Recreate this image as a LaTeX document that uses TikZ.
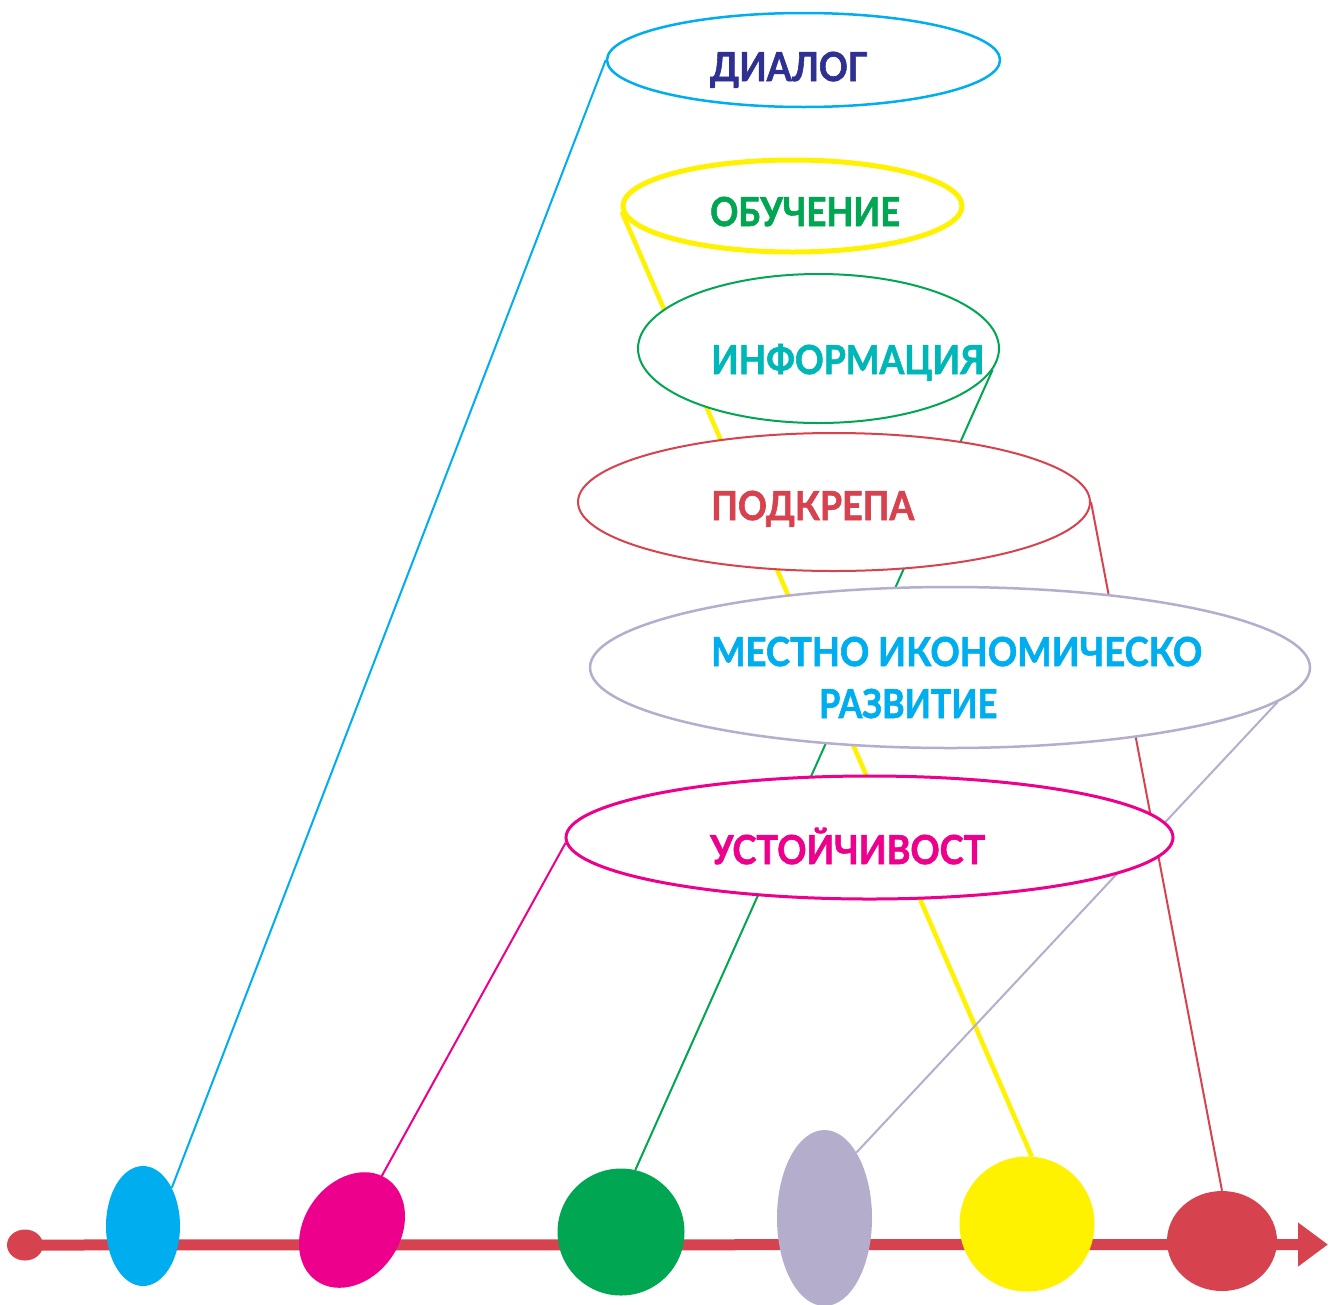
\documentclass[tikz,border=0pt]{standalone}
\usepackage{fontspec}
\setmainfont{Lato}
\newfontfamily\lblfont{Lato}[BoldFeatures={FakeBold=1.6}]
\usetikzlibrary{shapes.geometric,arrows.meta}
\pgfdeclarelayer{background}
\pgfsetlayers{background,main}
\definecolor{cblue}{HTML}{00AEEF}
\definecolor{cnavy}{HTML}{2E3192}
\definecolor{cmag}{HTML}{EC008C}
\definecolor{cgreen}{HTML}{00A651}
\definecolor{clav}{HTML}{B5ADCC}
\definecolor{cyel}{HTML}{FFF200}
\definecolor{cred}{HTML}{D7424F}
\definecolor{cteal}{HTML}{00B7B8}
\newcommand{\fitw}[2]{\resizebox{#1}{\height}{#2}}
\begin{document}
\begin{tikzpicture}[x=1pt,y=-1pt,
  bubble/.style={ellipse, fill=white, inner sep=0pt},
  ball/.style={ellipse, inner sep=0pt},
  lbl/.style={font=\fontsize{40}{48}\lblfont\bfseries, inner sep=0pt, anchor=base west},
  conn/.style={line width=2pt}]
\useasboundingbox (0,0) rectangle (1337,1304);

% text bubbles
\node[bubble, draw=cblue, line width=2.5pt, minimum width=393pt, minimum height=94pt] (dialog) at (803.5,60) {};
\node[bubble, draw=cyel, line width=5pt, minimum width=339pt, minimum height=92pt] (obuch) at (792.5,206) {};
\node[bubble, draw=cgreen, line width=2pt, minimum width=361pt, minimum height=149pt] (inform) at (818.5,348.5) {};
\node[bubble, draw=cred, line width=2pt, minimum width=512pt, minimum height=138pt] (podkr) at (834,502) {};
\node[bubble, draw=clav, line width=2.5pt, minimum width=720pt, minimum height=161pt] (mestno) at (950,667.5) {};
\node[bubble, draw=cmag, line width=3pt, minimum width=607pt, minimum height=123pt] (ustoi) at (869.5,837.5) {};

% labels
\node[lbl, text=cnavy] (tdialog) at (710,81) {\fitw{157pt}{ДИАЛОГ}};
\node[lbl, text=cgreen] (tobuch) at (710,226) {\fitw{190pt}{ОБУЧЕНИЕ}};
\node[lbl, text=cteal] (tinform) at (711,374) {\fitw{273pt}{ИНФОРМАЦИЯ}};
\node[lbl, text=cred] (tpodkr) at (711,520) {\fitw{203pt}{ПОДКРЕПА}};
\node[lbl, text=cblue] (tmestno) at (711,666) {\fitw{491pt}{МЕСТНО ИКОНОМИЧЕСКО}};
\node[lbl, text=cblue] (trazv) at (819,718) {\fitw{178pt}{РАЗВИТИЕ}};
\node[lbl, text=cmag] (tustoi) at (710,864) {\fitw{275pt}{УСТОЙЧИВОСТ}};

% balls on the axis
\node[ball, fill=cred, minimum width=36pt, minimum height=31pt] (start) at (25,1245) {};
\coordinate (tip) at (1328,1244.5);
\node[ball, fill=cblue, minimum width=74pt, minimum height=120pt] (bblue) at (143,1226) {};
\node[ball, fill=cmag, minimum width=96pt, minimum height=124pt, rotate=-35] (bmag) at (352,1230) {};
\node[ball, fill=cgreen, minimum width=127pt, minimum height=127pt] (bgreen) at (621,1232) {};
\node[ball, fill=clav, minimum width=95pt, minimum height=176pt] (blav) at (824.5,1218) {};
\node[ball, fill=cyel, minimum width=135pt, minimum height=135pt] (byel) at (1027,1224) {};
\node[ball, fill=cred, minimum width=110pt, minimum height=100pt] (bred) at (1222,1241) {};

\begin{pgfonlayer}{background}
\draw[cred, line width=11pt, -{Triangle[length=30pt,width=42pt]}] (start.center) -- (tip);
\draw[conn, cblue] (dialog.west) -- (bblue.53);
\draw[conn, cmag] (ustoi.181) -- (bmag.center);
\draw[cyel, line width=4.5pt] (obuch.182) -- (byel.86);
\draw[conn, cgreen] (inform.353) -- (bgreen.77);
\draw[conn, cred] (podkr.east) -- (bred.north);
\draw[conn, clav] (mestno.354) -- (blav.64);
\end{pgfonlayer}
\end{tikzpicture}
\end{document}
